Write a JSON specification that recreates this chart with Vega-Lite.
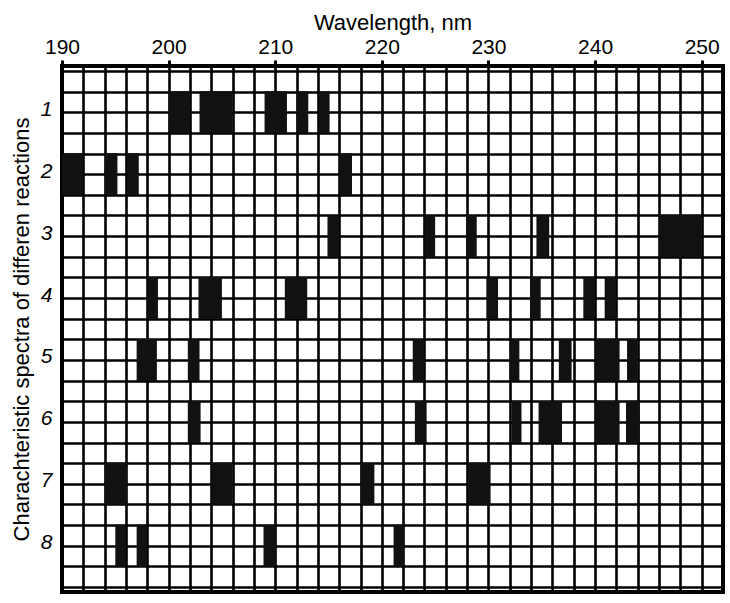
{
  "$schema": "https://vega.github.io/schema/vega-lite/v6.json",
  "autosize": {"type": "none"},
  "padding": {"left": 62, "top": 66, "right": 7, "bottom": 11},
  "width": 661,
  "height": 526,
  "background": "white",
  "config": {
    "font": "Liberation Sans",
    "view": {"stroke": "black", "strokeWidth": 4},
    "axis": {"labelFont": "Liberation Sans", "titleFont": "Liberation Sans", "labelColor": "black", "titleColor": "black", "titleFontWeight": "normal"}
  },
  "data": {"values": [
    {"reaction": 1, "start": 200, "end": 202},
    {"reaction": 1, "start": 202.9, "end": 206},
    {"reaction": 1, "start": 209, "end": 211.1},
    {"reaction": 1, "start": 212, "end": 213.1},
    {"reaction": 1, "start": 214.1, "end": 215.1},
    {"reaction": 2, "start": 190, "end": 192},
    {"reaction": 2, "start": 194, "end": 195.2},
    {"reaction": 2, "start": 196.1, "end": 197.2},
    {"reaction": 2, "start": 216, "end": 217.2},
    {"reaction": 3, "start": 214.9, "end": 216},
    {"reaction": 3, "start": 224, "end": 225},
    {"reaction": 3, "start": 227.9, "end": 228.9},
    {"reaction": 3, "start": 234.5, "end": 235.7},
    {"reaction": 3, "start": 246, "end": 250},
    {"reaction": 4, "start": 198, "end": 199},
    {"reaction": 4, "start": 202.8, "end": 205},
    {"reaction": 4, "start": 210.9, "end": 213},
    {"reaction": 4, "start": 229.8, "end": 230.9},
    {"reaction": 4, "start": 233.9, "end": 234.9},
    {"reaction": 4, "start": 238.9, "end": 240},
    {"reaction": 4, "start": 240.9, "end": 242},
    {"reaction": 5, "start": 197, "end": 198.9},
    {"reaction": 5, "start": 201.8, "end": 202.9},
    {"reaction": 5, "start": 222.9, "end": 224},
    {"reaction": 5, "start": 232, "end": 232.9},
    {"reaction": 5, "start": 236.6, "end": 237.8},
    {"reaction": 5, "start": 240, "end": 242.3},
    {"reaction": 5, "start": 243, "end": 244},
    {"reaction": 6, "start": 201.8, "end": 203},
    {"reaction": 6, "start": 223.1, "end": 224.2},
    {"reaction": 6, "start": 232.2, "end": 233.1},
    {"reaction": 6, "start": 234.7, "end": 236.9},
    {"reaction": 6, "start": 240, "end": 242.3},
    {"reaction": 6, "start": 242.9, "end": 244.2},
    {"reaction": 7, "start": 194, "end": 196.1},
    {"reaction": 7, "start": 204, "end": 206},
    {"reaction": 7, "start": 218, "end": 219.3},
    {"reaction": 7, "start": 228.1, "end": 230.2},
    {"reaction": 8, "start": 195, "end": 196},
    {"reaction": 8, "start": 197, "end": 198},
    {"reaction": 8, "start": 208.9, "end": 210.1},
    {"reaction": 8, "start": 221.1, "end": 222.1}
  ]},
  "mark": {"type": "bar", "color": "#111111", "height": 42},
  "encoding": {
    "x": {
      "field": "start", "type": "quantitative",
      "scale": {"domain": [190, 252], "nice": false, "zero": false},
      "axis": {
        "orient": "top",
        "title": "Wavelength, nm",
        "titleFontSize": 22,
        "titlePadding": 2,
        "values": [190,192,194,196,198,200,202,204,206,208,210,212,214,216,218,220,222,224,226,228,230,232,234,236,238,240,242,244,246,248,250,252],
        "labelExpr": "datum.value % 10 === 0 ? datum.label : ''",
        "labelFontSize": 21,
        "labelBaseline": "alphabetic",
        "labelPadding": 7,
        "labelFlush": false,
        "labelOverlap": false,
        "tickSize": 6,
        "tickWidth": 3,
        "tickColor": "black",
        "tickOpacity": {"condition": {"test": "datum.value % 10 === 0", "value": 1}, "value": 0},
        "domain": false,
        "grid": true,
        "gridColor": "black",
        "gridWidth": 2.6,
        "gridOpacity": 1
      }
    },
    "x2": {"field": "end"},
    "y": {
      "field": "reaction", "type": "quantitative",
      "scale": {"domain": [0.333333, 8.666667], "nice": false, "zero": false, "reverse": true},
      "axis": {
        "title": "Charachteristic spectra of differen reactions",
        "titleFontSize": 22,
        "titlePadding": 7,
        "values": [0.333333,0.666667,1,1.333333,1.666667,2,2.333333,2.666667,3,3.333333,3.666667,4,4.333333,4.666667,5,5.333333,5.666667,6,6.333333,6.666667,7,7.333333,7.666667,8,8.333333,8.666667],
        "labelExpr": "abs(datum.value - round(datum.value)) < 0.01 ? '' + round(datum.value) : ''",
        "labelFontSize": 21,
        "labelFontStyle": "italic",
        "labelPadding": 10,
        "labelOffset": -3,
        "labelOverlap": false,
        "labelFlush": false,
        "ticks": false,
        "domain": false,
        "grid": true,
        "gridColor": "black",
        "gridWidth": 2.6,
        "gridOpacity": 1
      }
    }
  }
}
